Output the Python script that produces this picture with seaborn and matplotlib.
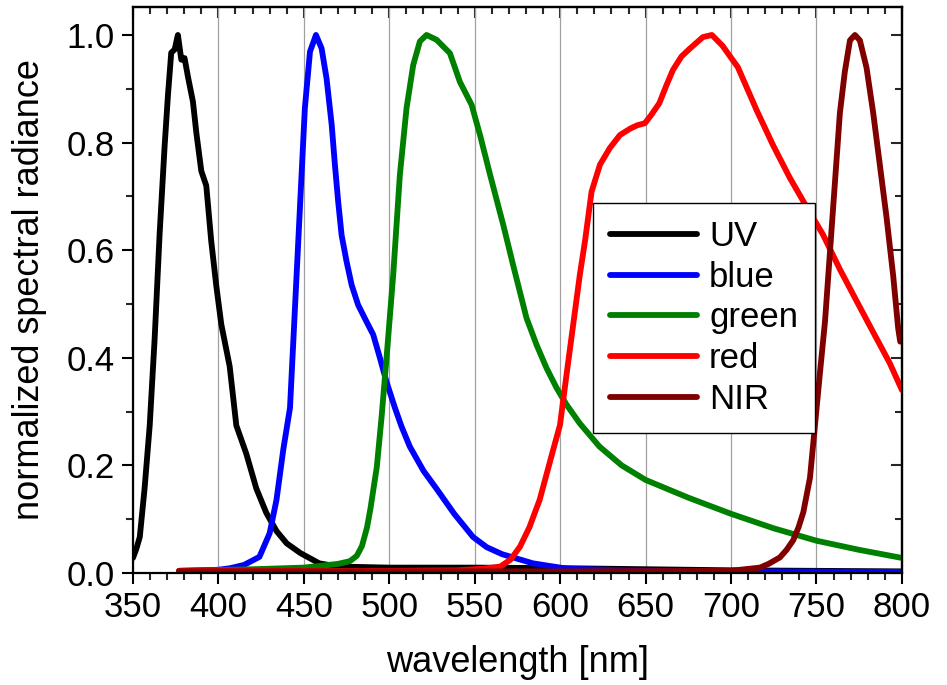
import numpy as np
import pandas as pd
import matplotlib
matplotlib.use("Agg")
import matplotlib.pyplot as plt
from matplotlib.ticker import MultipleLocator
import seaborn as sns

# spectra (wavelength in nm, normalized radiance)
uv_nm = [350, 352, 354, 356.8, 359.8, 362.7, 365.6, 368.5, 370.5, 372.4, 374.4, 376.3,
         378.3, 380.2, 382.2, 385.1, 387.1, 390, 392.9, 395.8, 398.8, 401.7, 406.6,
         410.5, 416.3, 422.2, 428, 434, 440, 448, 459, 470, 500, 550, 600, 650, 700, 750, 800]
uv_val = [0.028, 0.045, 0.067, 0.157, 0.274, 0.436, 0.63, 0.792, 0.889, 0.967, 0.973, 1.0,
          0.954, 0.957, 0.922, 0.876, 0.818, 0.747, 0.72, 0.617, 0.533, 0.462, 0.384,
          0.274, 0.222, 0.157, 0.112, 0.078, 0.055, 0.037, 0.018, 0.012, 0.01, 0.01, 0.009,
          0.007, 0.005, 0.004, 0.003]

blue_nm = [377, 400, 407, 415, 424, 430, 434, 438, 441.9, 444.8, 447.7, 450.6, 453.6, 457.1,
           460.4, 463.3, 466.3, 468.2, 470.1, 472.1, 475, 478, 481.8, 486.7, 490.6, 494.5,
           498.4, 503.3, 507.2, 512, 520, 528, 538, 549, 557, 566, 584, 604, 650, 700, 800]
blue_val = [0.004, 0.006, 0.009, 0.015, 0.03, 0.074, 0.136, 0.23, 0.307, 0.492, 0.678, 0.864,
            0.969, 1.0, 0.975, 0.919, 0.833, 0.758, 0.69, 0.628, 0.579, 0.535, 0.498, 0.467,
            0.443, 0.4, 0.355, 0.307, 0.272, 0.235, 0.19, 0.155, 0.11, 0.067, 0.048, 0.035,
            0.018, 0.008, 0.004, 0.003, 0.002]

green_nm = [377, 420, 450, 459, 470, 477, 481, 484, 487, 489, 492.7, 495.5, 498.4, 502.3,
            506.2, 510.1, 514, 517.9, 521.8, 527.7, 535.5, 541.3, 548.2, 553.1, 559,
            566.7, 572.5, 576.4, 580.3, 586.2, 592, 597.9, 603.7, 611.5, 623,
            636, 650, 675, 700, 725, 750, 775, 800]
green_val = [0.004, 0.007, 0.01, 0.013, 0.017, 0.022, 0.032, 0.05, 0.085, 0.12, 0.197, 0.29,
             0.40, 0.554, 0.74, 0.864, 0.944, 0.988, 1.0, 0.991, 0.966, 0.913, 0.87, 0.814,
             0.74, 0.647, 0.572, 0.523, 0.474, 0.424, 0.381, 0.344,
             0.313, 0.278, 0.235, 0.2, 0.173, 0.14, 0.11, 0.083, 0.06, 0.043, 0.028]

red_nm = [377, 500, 540, 555, 565, 571, 576.5, 582, 588, 596, 599.9, 603.7, 607.6, 611.5,
          614.5, 618.4, 623.3, 629.1, 635, 641, 645, 649.6, 653, 658, 662, 666, 671, 676,
          683.5, 688.8, 695, 704, 715, 724.6, 734.3, 744.1, 753.8, 763.6, 773.4, 783.1,
          792.9, 800]
red_val = [0.004, 0.004, 0.005, 0.008, 0.012, 0.025, 0.049, 0.085, 0.136, 0.23, 0.275, 0.368,
           0.461, 0.554, 0.616, 0.709, 0.759, 0.79, 0.814, 0.826, 0.832, 0.836, 0.85, 0.873,
           0.905, 0.935, 0.96, 0.975, 0.996, 1.0, 0.98, 0.94, 0.86, 0.795, 0.735, 0.681,
           0.629, 0.565, 0.506, 0.448, 0.39, 0.34]

nir_nm = [377, 600, 700, 705.2, 716.9, 722, 728.6, 732.5, 736.4, 739.5, 742.3, 746.2, 749.1,
          752, 755, 757.9, 760.8, 763.7, 766.6, 769.6, 772.5, 775.4, 779.3, 783.2, 787.1,
          791, 794.9, 797.8, 799]
nir_val = [0.003, 0.003, 0.004, 0.006, 0.01, 0.017, 0.029, 0.043, 0.061, 0.085, 0.113, 0.177,
           0.274, 0.371, 0.468, 0.597, 0.726, 0.855, 0.932, 0.99, 1.0, 0.99, 0.939, 0.855,
           0.758, 0.661, 0.552, 0.455, 0.43]

bands = ["UV", "blue", "green", "red", "NIR"]
colors = ["#000000", "#0000ff", "#008000", "#ff0000", "#800000"]
spectra = [(uv_nm, uv_val), (blue_nm, blue_val), (green_nm, green_val),
           (red_nm, red_val), (nir_nm, nir_val)]

sns.set_style("white")
plt.rcParams["font.family"] = ["Liberation Sans", "DejaVu Sans"]
plt.rcParams["text.color"] = "black"
plt.rcParams["axes.labelcolor"] = "black"

fig = plt.figure(figsize=(9.47, 6.85), dpi=100)
ax = fig.add_axes([0.1404, 0.1635, 0.812, 0.8263])

for band, color, (nm, val) in zip(bands, colors, spectra):
    df = pd.DataFrame({"wavelength": nm, "radiance": val})
    sns.lineplot(data=df, x="wavelength", y="radiance", color=color, lw=4.2,
                 label=band, ax=ax, estimator=None, sort=False)

ax.set_xlim(350, 800)
ax.set_ylim(0, 1.052)
ax.xaxis.set_major_locator(MultipleLocator(50))
ax.xaxis.set_minor_locator(MultipleLocator(10))
ax.yaxis.set_major_locator(MultipleLocator(0.2))
ax.yaxis.set_minor_locator(MultipleLocator(0.1))
ax.yaxis.set_major_formatter(matplotlib.ticker.FormatStrFormatter("%.1f"))

ax.xaxis.grid(True, which="major", color="#a0a0a0", lw=0.9)
ax.yaxis.grid(False)

for s in ax.spines.values():
    s.set_color("black")
    s.set_linewidth(1.6)

ax.tick_params(which="major", direction="out", length=8, width=1.5, labelsize=25,
               colors="black", bottom=True, left=True, pad=5)
ax.tick_params(which="minor", direction="out", length=5, width=1.5,
               bottom=True, left=True)

# inward ticks on top and right
top = ax.secondary_xaxis("top")
top.xaxis.set_major_locator(MultipleLocator(50))
top.xaxis.set_minor_locator(MultipleLocator(10))
top.tick_params(which="major", direction="in", length=8, width=1.5, labeltop=False)
top.tick_params(which="minor", direction="in", length=5, width=1.5)
top.spines["top"].set_linewidth(1.6)
right = ax.secondary_yaxis("right")
right.yaxis.set_major_locator(MultipleLocator(0.2))
right.yaxis.set_minor_locator(MultipleLocator(0.1))
right.tick_params(which="major", direction="in", length=8, width=1.5, labelright=False)
right.tick_params(which="minor", direction="in", length=5, width=1.5)
right.spines["right"].set_linewidth(1.6)

ax.set_xlabel("wavelength [nm]", fontsize=26, labelpad=15)
ax.set_ylabel("normalized spectral radiance", fontsize=26, labelpad=14)

leg = ax.legend(loc="upper left", bbox_to_anchor=(0.598, 0.654), borderaxespad=0,
                fontsize=25, handlelength=2.5, handletextpad=0.35, labelspacing=0.22,
                frameon=True, fancybox=False, framealpha=1, borderpad=0.5)
leg.get_frame().set_edgecolor("black")
leg.get_frame().set_linewidth(1.0)

fig.savefig("out.png", dpi=100)
